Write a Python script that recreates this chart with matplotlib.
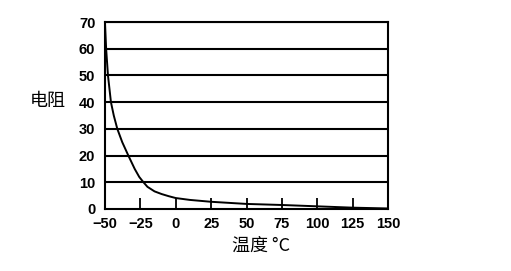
import matplotlib
matplotlib.use("Agg")
import matplotlib.pyplot as plt
import numpy as np

plt.rcParams['font.family'] = ['Noto Sans CJK SC', 'DejaVu Sans']

temps = [-50, -49.2, -47.9, -45.8, -43.8, -41.3, -37.8, -33.5, -29, -25.8, -22.8, -20, -15, -10, -5, 0, 10, 25, 50, 75, 100, 125, 150]
resistance = [69.5, 60, 50, 40, 35, 30, 25, 20, 15, 12, 10, 8.3, 6.6, 5.6, 4.8, 4.1, 3.4, 2.7, 1.9, 1.5, 1.0, 0.5, 0.2]
xticks = [-50, -25, 0, 25, 50, 75, 100, 125, 150]
xtick_labels = ['\u221250', '\u221225', '0', '25', '50', '75', '100', '125', '150']
yticks = [0, 10, 20, 30, 40, 50, 60, 70]

fig = plt.figure(figsize=(5.11, 2.71), dpi=100)
ax = fig.add_axes([105/511, 1-209/271, 283/511, 187/271])

for y in yticks[1:]:
    ax.axhline(y, color='black', lw=1.5, zorder=1)
ax.plot(temps, resistance, color='black', lw=1.4, zorder=2)

ax.set_xlim(-50, 150)
ax.set_ylim(0, 70)
ax.set_xticks(xticks)
ax.set_xticklabels(xtick_labels, fontfamily='Liberation Sans', fontweight='bold', fontsize=10.5)
ax.set_yticks(yticks)
ax.set_yticklabels([str(v) for v in yticks], fontfamily='Liberation Sans', fontweight='bold', fontsize=10.5)
ax.tick_params(axis='x', direction='in', length=8, width=1.3, pad=6)
ax.tick_params(axis='y', length=0, pad=7)
for s in ax.spines.values():
    s.set_linewidth(1.5)

fig.text(48/511, 1-101/271, '电阻', ha='center', va='center', fontsize=13, fontweight='normal')
fig.text(261/511, 1-246/271, '温度 °C', ha='center', va='center', fontsize=13, fontweight='normal')

fig.savefig('out.png', dpi=100, facecolor='white')
